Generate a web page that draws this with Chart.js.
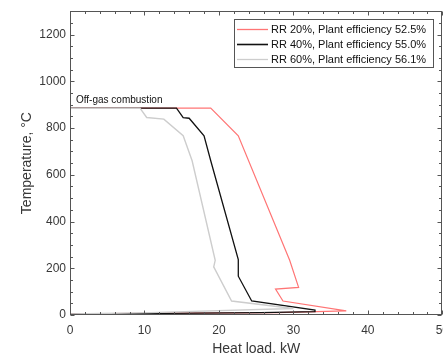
<!DOCTYPE html>
<html>
<head>
<style>
  html, body { margin: 0; padding: 0; background: #fff; overflow: hidden; width: 443px; height: 353px; }
  #wrap { position: absolute; left: 0; top: 0; width: 457px; height: 358px; }
</style>
</head>
<body>
<div id="wrap"><canvas id="chart" width="457" height="358"></canvas></div>

<script src="https://cdn.jsdelivr.net/npm/chart.js@4.4.0/dist/chart.umd.min.js"></script>
<script>
  // data
  const seriesLabels = [
    "RR 20%, Plant efficiency 52.5%",
    "RR 40%, Plant efficiency 55.0%",
    "RR 60%, Plant efficiency 56.1%"
  ]
  const rr20Load = [0, 18.9, 22.6, 29.5, 30.7, 27.6, 28.6, 37.1, 27.8, 5, 0]
  const rr20Temp = [885, 885, 767, 234, 118, 111, 60, 18, 10, 6, 5]
  const rr40Load = [0, 14.3, 15.2, 16.0, 18.0, 18.9, 22.6, 22.6, 24.4, 32.9, 32.9, 25.6, 0]
  const rr40Temp = [885, 885, 845, 842, 767, 660, 237, 166, 60, 21, 14, 10, 4]
  const rr60Load = [0, 9.4, 10.3, 12.6, 15.2, 16.4, 19.5, 19.3, 21.7, 30.0, 10.8, 0]
  const rr60Temp = [885, 885, 845, 838, 767, 660, 234, 206, 60, 28, 10, 4]

  const xTicks = [0, 10, 20, 30, 40, 50]
  const yTicks = [0, 200, 400, 600, 800, 1000, 1200]
  const annotationText = "Off-gas combustion"

  const colors = ["#ff7575", "#111111", "#cdcdcd"]
  const font = "'Liberation Sans', Arial, sans-serif"
  const axisColor = "#383838"

  function points(xs, ys) {
    return xs.map((x, i) => ({ x: x, y: ys[i] }))
  }

  // box, inward ticks (MATLAB style), legend and the text label
  const matlabAxes = {
    id: "matlabAxes",
    afterDraw(chart) {
      const ctx = chart.ctx
      const a = chart.chartArea
      const xs = chart.scales.x
      const ys = chart.scales.y
      const L = Math.round(a.left) + 0.5, R = Math.round(a.right) - 0.5
      const T = Math.round(a.top) + 0.5, B = Math.round(a.bottom) - 0.5
      ctx.save()
      ctx.strokeStyle = "#555"
      ctx.lineWidth = 1
      ctx.strokeRect(L, T, R - L, B - T)

      ctx.beginPath()
      for (let v = 0; v <= 50; v += 2) {
        const px = Math.round(xs.getPixelForValue(v)) + 0.5
        const len = v % 10 === 0 ? 4 : 2.5
        ctx.moveTo(px, B); ctx.lineTo(px, B - len)
        ctx.moveTo(px, T); ctx.lineTo(px, T + len)
      }
      for (let v = 0; v <= 1300; v += 50) {
        const py = Math.round(ys.getPixelForValue(v)) + 0.5
        const len = v % 200 === 0 ? 4 : 2.5
        ctx.moveTo(L, py); ctx.lineTo(L + len, py)
        ctx.moveTo(R, py); ctx.lineTo(R - len, py)
      }
      ctx.stroke()

      // annotation
      ctx.fillStyle = "#111"
      ctx.font = "10px " + font
      ctx.textBaseline = "middle"
      ctx.textAlign = "left"
      ctx.fillText(annotationText, xs.getPixelForValue(0.8), ys.getPixelForValue(918))

      // legend
      const lx = 234.5, ly = 19.5, lw = 199, lh = 48
      ctx.fillStyle = "#fff"
      ctx.fillRect(lx, ly, lw, lh)
      ctx.strokeStyle = "#555"
      ctx.strokeRect(lx, ly, lw, lh)
      ctx.font = "11px " + font
      chart.data.datasets.forEach((ds, i) => {
        const y = 29 + i * 15
        ctx.strokeStyle = ds.borderColor
        ctx.lineWidth = i === 1 ? 1.6 : 1.3
        ctx.beginPath()
        ctx.moveTo(237, y + 0.5)
        ctx.lineTo(268, y + 0.5)
        ctx.stroke()
        ctx.fillStyle = "#111"
        ctx.fillText(ds.label, 271, y + 0.5)
      })
      ctx.restore()
    }
  }

  const ctx = document.getElementById("chart").getContext("2d")
  new Chart(ctx, {
    type: "line",
    data: {
      datasets: [
        { label: seriesLabels[0], data: points(rr20Load, rr20Temp), borderColor: colors[0], borderWidth: 1.2, order: 3 },
        { label: seriesLabels[1], data: points(rr40Load, rr40Temp), borderColor: colors[1], borderWidth: 1.3, order: 2 },
        { label: seriesLabels[2], data: points(rr60Load, rr60Temp), borderColor: colors[2], borderWidth: 1.4, order: 1 }
      ]
    },
    options: {
      responsive: false,
      animation: false,
      parsing: false,
      layout: { padding: { top: 10, right: 0, left: 0, bottom: 0 } },
      elements: {
        point: { radius: 0 },
        line: { tension: 0, fill: false }
      },
      plugins: {
        legend: { display: false },
        tooltip: { enabled: false }
      },
      scales: {
        x: {
          type: "linear",
          min: 0,
          max: 50,
          afterBuildTicks: s => { s.ticks = xTicks.map(v => ({ value: v })) },
          afterFit: s => { s.height = 43 },
          grid: { display: false, drawTicks: false },
          border: { display: false },
          ticks: { padding: 8, color: axisColor, font: { family: font, size: 12 }, maxRotation: 0, callback: v => String(v) },
          title: { display: true, text: "Heat load, kW", color: axisColor, font: { family: font, size: 14 }, padding: 0 }
        },
        y: {
          type: "linear",
          min: 0,
          max: 1300,
          afterBuildTicks: s => { s.ticks = yTicks.map(v => ({ value: v })) },
          afterFit: s => { s.width = 70 },
          grid: { display: false, drawTicks: false },
          border: { display: false },
          ticks: { padding: 4, color: axisColor, font: { family: font, size: 12 }, callback: v => String(v) },
          title: { display: true, text: "Temperature, °C", color: axisColor, font: { family: font, size: 14 }, padding: { top: 19, bottom: 0 } }
        }
      }
    },
    plugins: [matlabAxes]
  })
</script>
</body>
</html>
